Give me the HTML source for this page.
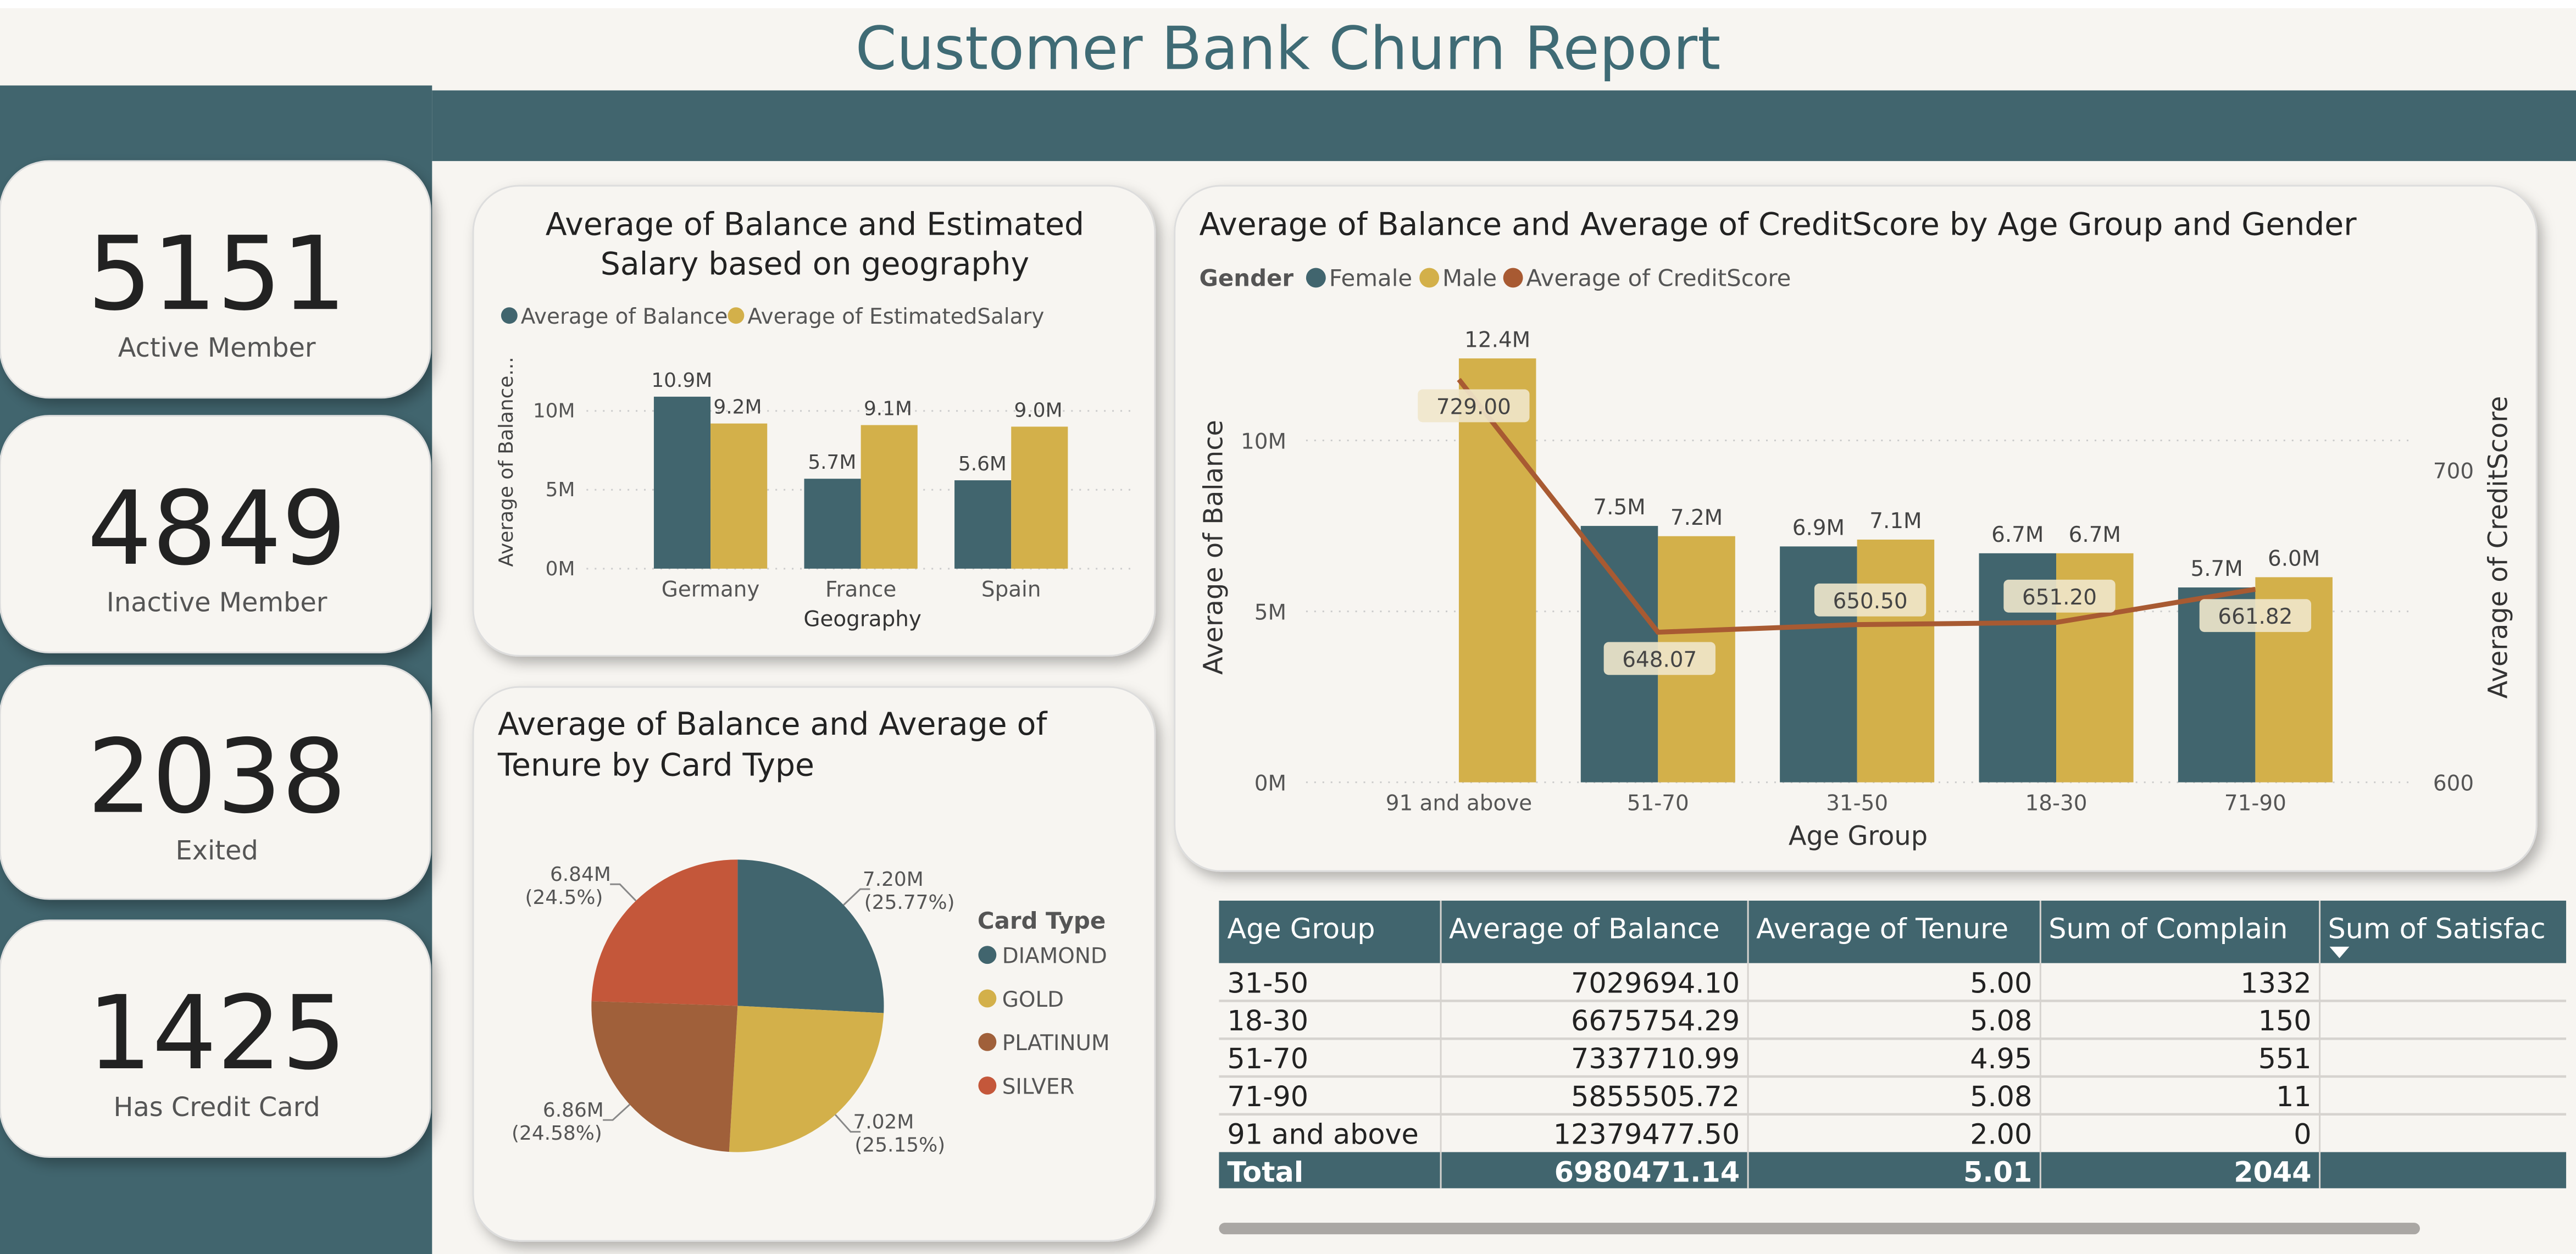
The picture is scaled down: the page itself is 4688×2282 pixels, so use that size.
<!DOCTYPE html>
<html><head><meta charset="utf-8"><style>
html,body{margin:0;padding:0;background:#f7f5f1;overflow:hidden}
svg{display:block}
text{font-family:"DejaVu Sans","Liberation Sans",sans-serif}
</style></head><body>
<svg id="s" width="4688" height="2282" viewBox="0 0 1568 763" preserveAspectRatio="none" xmlns="http://www.w3.org/2000/svg">
<defs>
<filter id="sh" x="-10%" y="-10%" width="125%" height="130%"><feDropShadow dx="3" dy="4" stdDeviation="4" flood-color="#000" flood-opacity="0.28"/></filter>
</defs>
<rect x="0" y="0" width="1568" height="763" fill="#f7f5f1"/>
<rect x="0" y="0" width="1568" height="5" fill="#ffffff"/>
<text x="784" y="42" text-anchor="middle" font-size="36" fill="#3f6b75">Customer Bank Churn Report</text>
<rect x="0" y="52" width="263" height="711" fill="#41656e"/>
<rect x="263" y="55" width="1305" height="43" fill="#41656e"/>

<g>
<rect x="0" y="98" width="262" height="144" rx="30" fill="#f7f5f1" stroke="#ddd" filter="url(#sh)"/>
<text x="132" y="188" text-anchor="middle" font-size="62" fill="#222">5151</text>
<text x="132" y="217" text-anchor="middle" font-size="16" fill="#555">Active Member</text></g>
<g>
<rect x="0" y="253" width="262" height="144" rx="30" fill="#f7f5f1" stroke="#ddd" filter="url(#sh)"/>
<text x="132" y="343" text-anchor="middle" font-size="62" fill="#222">4849</text>
<text x="132" y="372" text-anchor="middle" font-size="16" fill="#555">Inactive Member</text></g>
<g>
<rect x="0" y="405" width="262" height="142" rx="30" fill="#f7f5f1" stroke="#ddd" filter="url(#sh)"/>
<text x="132" y="494" text-anchor="middle" font-size="62" fill="#222">2038</text>
<text x="132" y="523" text-anchor="middle" font-size="16" fill="#555">Exited</text></g>
<g>
<rect x="0" y="560" width="262" height="144" rx="30" fill="#f7f5f1" stroke="#ddd" filter="url(#sh)"/>
<text x="132" y="650" text-anchor="middle" font-size="62" fill="#222">1425</text>
<text x="132" y="679" text-anchor="middle" font-size="16" fill="#555">Has Credit Card</text></g>

<!-- card 1 -->
<g>
<rect x="288" y="113" width="415" height="286" rx="28" fill="#f7f5f1" stroke="#ddd" filter="url(#sh)"/>
<text x="496" y="143" text-anchor="middle" font-size="19" fill="#222">Average of Balance and Estimated</text>
<text x="496" y="167" text-anchor="middle" font-size="19" fill="#222">Salary based on geography</text>
<circle cx="310" cy="192" r="5" fill="#41656e"/><text x="317" y="197" font-size="13" fill="#555">Average of Balance</text>
<circle cx="448" cy="192" r="5" fill="#d3b04a"/><text x="455" y="197" font-size="13" fill="#555">Average of EstimatedSalary</text>
<text transform="translate(312,281) rotate(-90)" text-anchor="middle" font-size="12" fill="#444">Average of Balance...</text>
<text x="525" y="381" text-anchor="middle" font-size="13" fill="#333">Geography</text>
<g id="geo"></g>
</g>

<!-- card 2 -->
<g>
<rect x="288" y="418" width="415" height="337" rx="28" fill="#f7f5f1" stroke="#ddd" filter="url(#sh)"/>
<text x="303" y="447" font-size="19" fill="#222">Average of Balance and Average of</text>
<text x="303" y="472" font-size="19" fill="#222">Tenure by Card Type</text>
<g id="pie"></g>
<text x="595" y="565" font-size="14" font-weight="bold" fill="#555">Card Type</text>
<g id="pieleg"></g>
</g>

<!-- card 3 -->
<g>
<rect x="715" y="113" width="829" height="417" rx="28" fill="#f7f5f1" stroke="#ddd" filter="url(#sh)"/>
<text x="730" y="143" font-size="19" fill="#222">Average of Balance and Average of CreditScore by Age Group and Gender</text>
<text x="730" y="174" font-size="14" font-weight="bold" fill="#555">Gender</text>
<circle cx="801" cy="169" r="6" fill="#41656e"/><text x="809" y="174" font-size="14" fill="#555">Female</text>
<circle cx="870" cy="169" r="6" fill="#d3b04a"/><text x="878" y="174" font-size="14" fill="#555">Male</text>
<circle cx="921" cy="169" r="6" fill="#a85a32"/><text x="929" y="174" font-size="14" fill="#555">Average of CreditScore</text>
<text transform="translate(744,333) rotate(-90)" text-anchor="middle" font-size="16" fill="#333">Average of Balance</text>
<text transform="translate(1526,333) rotate(-90)" text-anchor="middle" font-size="16" fill="#333">Average of CreditScore</text>
<text x="1131" y="514" text-anchor="middle" font-size="16" fill="#333">Age Group</text>
<g id="age"></g>
</g>

<!-- table -->
<g id="tbl"></g>
<rect x="742" y="744" width="731" height="7" rx="3.5" fill="#aaa7a4"/>
</svg>
<script>
// ---------- geography chart data ----------
const geoCats = ["Germany","France","Spain"];
const geoBalance = [10.9, 5.7, 5.6];
const geoSalary = [9.2, 9.1, 9.0];
const geoTicks = [0,5,10];
const geoTickLabels = ["0M","5M","10M"];
// ---------- pie data ----------
const pieCats = ["DIAMOND","GOLD","PLATINUM","SILVER"];
const pieVals = [7.20, 7.02, 6.86, 6.84];
const pieLabels = ["7.20M","7.02M","6.86M","6.84M"];
const piePct = ["(25.77%)","(25.15%)","(24.58%)","(24.5%)"];
// ---------- age chart data ----------
const ageCats = ["91 and above","51-70","31-50","18-30","71-90"];
const ageFemale = [0, 7.5, 6.9, 6.7, 5.7];
const ageMale = [12.4, 7.2, 7.1, 6.7, 6.0];
const ageCredit = [729.00, 648.07, 650.50, 651.20, 661.82];
const ageLeftTicks = [0,5,10];
const ageLeftLabels = ["0M","5M","10M"];
const ageRightTicks = [600,700];
// ---------- table data ----------
const tblHead = ["Age Group","Average of Balance","Average of Tenure","Sum of Complain","Sum of Satisfac"];
const tblGroups = ["31-50","18-30","51-70","71-90","91 and above"];
const tblBalance = ["7029694.10","6675754.29","7337710.99","5855505.72","12379477.50"];
const tblTenure = ["5.00","5.08","4.95","5.08","2.00"];
const tblComplain = ["1332","150","551","11","0"];
const tblTotal = ["Total","6980471.14","5.01","2044",""];

const NS="http://www.w3.org/2000/svg";
function mk(parent,tag,attrs,txt){const e=document.createElementNS(NS,tag);for(const k in attrs)e.setAttribute(k,attrs[k]);if(txt!==undefined)e.textContent=txt;parent.appendChild(e);return e;}
const TEAL="#41656e",GOLD="#d3b04a";

// geo chart
(function(){
const g=document.getElementById('geo');
const y=v=>346-v*9.6;
const x0=i=>398+i*91.5;
geoTicks.forEach((t,i)=>{
 const l=mk(g,'line',{x1:357,x2:690,y1:y(t),y2:y(t),stroke:'#ccc','stroke-dasharray':'1 4'});
 
 
 const tx=mk(g,'text',{x:350,y:y(t)+4,'text-anchor':'end','font-size':12,fill:'#555'},geoTickLabels[i]);
 
 
});
geoCats.forEach((c,i)=>{
 const bx=x0(i);
 const b1=mk(g,'rect',{x:bx,y:y(geoBalance[i]),width:34.5,height:geoBalance[i]*9.6,fill:TEAL});
 
 
 const b2=mk(g,'rect',{x:bx+34.5,y:y(geoSalary[i]),width:34.5,height:geoSalary[i]*9.6,fill:GOLD});
 
 
 const l1=mk(g,'text',{x:bx+17,y:y(geoBalance[i])-6,'text-anchor':'middle','font-size':12,fill:'#444'},geoBalance[i].toFixed(1)+'M');
 
 
 const l2=mk(g,'text',{x:bx+51,y:y(geoSalary[i])-6,'text-anchor':'middle','font-size':12,fill:'#444'},geoSalary[i].toFixed(1)+'M');
 
 
 const xl=mk(g,'text',{x:bx+34.5,y:363,'text-anchor':'middle','font-size':13,fill:'#555'},c);
 
 
});
})();

// pie
(function(){
const g=document.getElementById('pie'),lg=document.getElementById('pieleg');
const cols=[TEAL,GOLD,"#a0603a","#c4573a"];
const cx=449,cy=612,r=89;
const tot=pieVals.reduce((a,b)=>a+b,0);
let a=-Math.PI/2;
pieVals.forEach((v,i)=>{
 const da=v/tot*2*Math.PI,a2=a+da;
 const p=`M${cx},${cy}L${cx+r*Math.cos(a)},${cy+r*Math.sin(a)}A${r},${r} 0 ${da>Math.PI?1:0} 1 ${cx+r*Math.cos(a2)},${cy+r*Math.sin(a2)}Z`;
 const s=mk(g,'path',{d:p,fill:cols[i]});
 
 
 const m=(a+a2)/2;
 const sx=cx+r*Math.cos(m),sy=cy+r*Math.sin(m);
 const ex=cx+(r+14)*Math.cos(m),ey=cy+(r+14)*Math.sin(m);
 const right=Math.cos(m)>0;
 mk(g,'polyline',{points:`${sx},${sy} ${ex},${ey} ${ex+(right?6:-6)},${ey}`,fill:'none',stroke:'#888','stroke-width':1});
 const tx=ex+(right?8:-8);
 const t1=mk(g,'text',{x:right?tx+12:tx-16,y:ey-2,'text-anchor':'middle','font-size':12,fill:'#555'},pieLabels[i]);
 
 
 const t2=mk(g,'text',{x:right?tx+22:tx-26,y:ey+12,'text-anchor':'middle','font-size':12,fill:'#555'},piePct[i]);
 
 
 a=a2;
 const ly=586+i*26.5;
 const c=mk(lg,'circle',{cx:601,cy:ly-5,r:5.5,fill:cols[i]});
 
 
 const lt=mk(lg,'text',{x:610,y:ly,'font-size':13,fill:'#555'},pieCats[i]);
 
 
});
})();

// age chart
(function(){
const g=document.getElementById('age');
const y=v=>476-v*20.8;
const yr=v=>476-(v-600)*1.9;
const cx=i=>888+i*121.2;
ageLeftTicks.forEach((t,i)=>{
 const l=mk(g,'line',{x1:795,x2:1470,y1:y(t),y2:y(t),stroke:'#ccc','stroke-dasharray':'1 4'});
 
 
 const tx=mk(g,'text',{x:783,y:y(t)+5,'text-anchor':'end','font-size':13,fill:'#555'},ageLeftLabels[i]);
 
 
});
ageRightTicks.forEach(t=>{
 const tx=mk(g,'text',{x:1481,y:yr(t)+5,'font-size':13,fill:'#555'},String(t));
 
 
});
ageCats.forEach((c,i)=>{
 const x=cx(i);
 if(ageFemale[i]>0){
  const b=mk(g,'rect',{x:x-47,y:y(ageFemale[i]),width:47,height:ageFemale[i]*20.8,fill:TEAL});
  
  
  const l=mk(g,'text',{x:x-23.5,y:y(ageFemale[i])-7,'text-anchor':'middle','font-size':13,fill:'#444'},ageFemale[i].toFixed(1)+'M');
  
  
 }
 const bm=mk(g,'rect',{x:x,y:y(ageMale[i]),width:47,height:ageMale[i]*20.8,fill:GOLD});
 
 
 const lm=mk(g,'text',{x:x+23.5,y:y(ageMale[i])-7,'text-anchor':'middle','font-size':13,fill:'#444'},ageMale[i].toFixed(1)+'M');
 
 
 const xl=mk(g,'text',{x:x,y:493,'text-anchor':'middle','font-size':13,fill:'#555'},c);
 
 
});
const pts=ageCredit.map((v,i)=>`${cx(i)},${yr(v)}`).join(' ');
const ln=mk(g,'polyline',{points:pts,fill:'none',stroke:'#a85a32','stroke-width':3});


const offs=[[9,16],[1,16],[8,-15],[2,-16],[0,16]];
ageCredit.forEach((v,i)=>{
 const lx=cx(i)+offs[i][0],ly=yr(v)+offs[i][1];
 const r=mk(g,'rect',{x:lx-34,y:ly-10,width:68,height:20,rx:3,fill:'#efe7cb',opacity:0.9});
 
 
 const t=mk(g,'text',{x:lx,y:ly+5,'text-anchor':'middle','font-size':13,fill:'#444'},v.toFixed(2));
 
 
});
})();

// table
(function(){
const g=document.getElementById('tbl');
const xs=[742,877,1064,1242,1412,1562];
mk(g,'rect',{x:742,y:548,width:820,height:38,fill:TEAL});
tblHead.forEach((h,i)=>{
 const t=mk(g,'text',{x:xs[i]+5,y:571,'font-size':17,fill:'#fff'},h);
 
 
});
mk(g,'path',{d:'M1418,576 L1430,576 L1424,583 Z',fill:'#fff'});
const rh=23;
tblGroups.forEach((a,r)=>{
 const y0=586+r*rh;
 if(r>0)mk(g,'line',{x1:742,x2:1562,y1:y0,y2:y0,stroke:'#d6d3cf','stroke-width':1.5});
 const vals=[a,tblBalance[r],tblTenure[r],tblComplain[r]];
 vals.forEach((v,i)=>{
  const t=mk(g,'text',i==0?{x:xs[0]+5,y:y0+18,'font-size':17,fill:'#222'}:{x:xs[i+1]-5,y:y0+18,'text-anchor':'end','font-size':17,fill:'#222'},v);
  
  
 });
});
mk(g,'rect',{x:742,y:701,width:820,height:22,fill:TEAL});
tblTotal.forEach((v,i)=>{
 if(!v)return;
 const t=mk(g,'text',i==0?{x:xs[0]+5,y:719,'font-size':17,'font-weight':'bold',fill:'#fff'}:{x:xs[i+1]-5,y:719,'text-anchor':'end','font-size':17,'font-weight':'bold',fill:'#fff'},v);
 
 
});
xs.slice(1,5).forEach(x=>mk(g,'line',{x1:x,x2:x,y1:548,y2:723,stroke:'#d6d3cf','stroke-width':1}));
})();
</script>
</body></html>
